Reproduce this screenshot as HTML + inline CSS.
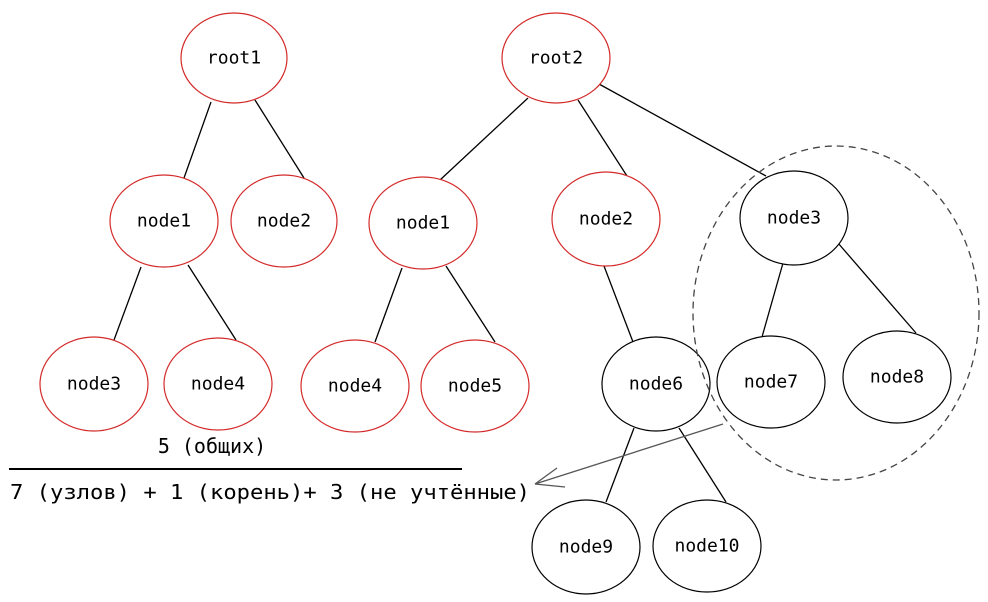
<!DOCTYPE html>
<html><head><meta charset="utf-8"><style>
html,body{margin:0;padding:0;background:#fff;}
svg{display:block;}
text{font-family:"DejaVu Sans Mono","Liberation Mono",monospace;}
</style></head><body>
<svg width="988" height="602" xmlns="http://www.w3.org/2000/svg">
<g fill="none" stroke="#000" stroke-width="1.3">
<line x1="211" y1="102" x2="184" y2="178"/><line x1="255" y1="100" x2="304" y2="178"/>
<line x1="141" y1="267" x2="114" y2="340"/><line x1="188" y1="265" x2="236" y2="340"/>
<line x1="528" y1="98" x2="440" y2="180"/><line x1="578" y1="100" x2="627" y2="176"/><line x1="599" y1="84" x2="766" y2="176"/>
<line x1="402" y1="268" x2="375" y2="342"/><line x1="446" y1="266" x2="495" y2="342"/>
<line x1="604" y1="266" x2="633" y2="342"/>
<line x1="783" y1="263" x2="762" y2="337"/><line x1="838" y1="243" x2="916" y2="333"/>
<line x1="634" y1="428" x2="606" y2="502"/><line x1="679" y1="428" x2="726" y2="502"/>
</g>
<g fill="#fff" stroke="#d42a2a" stroke-width="1.2">
<ellipse cx="234" cy="58" rx="53" ry="45"/><ellipse cx="556" cy="58" rx="54" ry="45"/>
<ellipse cx="164" cy="221" rx="54" ry="46"/><ellipse cx="284" cy="221" rx="53" ry="46"/>
<ellipse cx="94" cy="384" rx="54" ry="47"/><ellipse cx="218" cy="384" rx="54" ry="46"/>
<ellipse cx="423" cy="223" rx="54" ry="46"/><ellipse cx="606" cy="219" rx="54" ry="47"/>
<ellipse cx="355" cy="386" rx="54" ry="46"/><ellipse cx="475" cy="386" rx="54" ry="46"/>
</g>
<g fill="#fff" stroke="#000" stroke-width="1.2">
<ellipse cx="794" cy="218" rx="54" ry="47"/><ellipse cx="656" cy="384" rx="54" ry="47"/>
<ellipse cx="771" cy="382" rx="54" ry="46"/><ellipse cx="897" cy="377" rx="54" ry="46"/>
<ellipse cx="586" cy="547" rx="54" ry="47"/><ellipse cx="707" cy="546" rx="54" ry="46"/>
</g>
<ellipse cx="836" cy="313" rx="143" ry="167" fill="none" stroke="#444" stroke-width="1.3" stroke-dasharray="7,5"/>
<g stroke="#555" stroke-width="1.3" fill="none">
<line x1="723" y1="424" x2="535" y2="484"/><line x1="535" y1="484" x2="565" y2="487"/><line x1="535" y1="484" x2="557" y2="468"/>
</g>
<g font-size="18" text-anchor="middle" dominant-baseline="central" fill="#000">
<text x="234" y="58">root1</text><text x="556" y="58">root2</text>
<text x="164" y="221">node1</text><text x="284" y="221">node2</text>
<text x="94" y="384">node3</text><text x="218" y="384">node4</text>
<text x="423" y="223">node1</text><text x="606" y="219">node2</text>
<text x="355" y="386">node4</text><text x="475" y="386">node5</text>
<text x="794" y="218">node3</text><text x="656" y="384">node6</text>
<text x="771" y="382">node7</text><text x="897" y="377">node8</text>
<text x="586" y="547">node9</text><text x="707" y="546">node10</text>
</g>
<text x="212" y="453" font-size="20" text-anchor="middle">5 (общих)</text>
<line x1="9" y1="469" x2="462" y2="469" stroke="#000" stroke-width="2"/>
<text x="10" y="499" font-size="20" textLength="520" lengthAdjust="spacingAndGlyphs">7 (узлов) + 1 (корень)+ 3 (не учтённые)</text>
</svg>
</body></html>
